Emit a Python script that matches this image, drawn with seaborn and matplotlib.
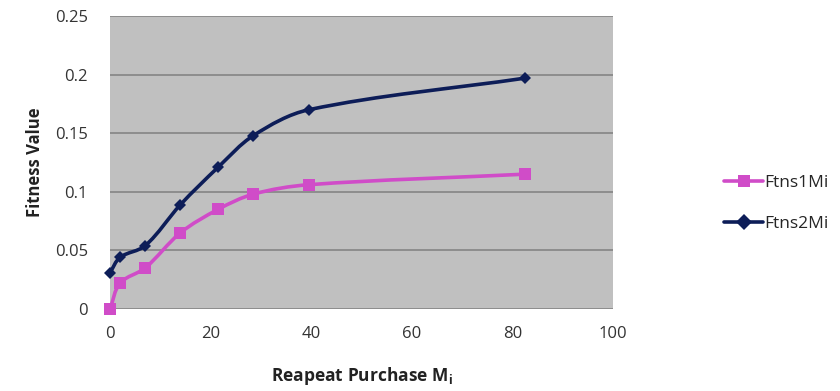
import matplotlib
matplotlib.use("Agg")
import matplotlib.pyplot as plt
from matplotlib.path import Path
from matplotlib.patches import PathPatch
import seaborn as sns
import pandas as pd
import numpy as np

# Repeat purchase counts and fitness values for the two fitness functions
repeat_purchase = [0, 2, 7, 14, 21.5, 28.5, 39.5, 82.5]
ftns1 = [0.0, 0.022, 0.035, 0.065, 0.085, 0.098, 0.106, 0.115]
ftns2 = [0.031, 0.044, 0.054, 0.089, 0.121, 0.148, 0.170, 0.197]
series_names = ["Ftns1Mi", "Ftns2Mi"]
x_ticks = [0, 20, 40, 60, 80, 100]
y_ticks = [0, 0.05, 0.1, 0.15, 0.2, 0.25]
y_tick_labels = ["0", "0.05", "0.1", "0.15", "0.2", "0.25"]

df = pd.DataFrame({
    "x": repeat_purchase * 2,
    "y": ftns1 + ftns2,
    "series": [series_names[0]] * len(ftns1) + [series_names[1]] * len(ftns2),
})

sns.set_theme(style="white")
plt.rcParams["font.family"] = ["Open Sans", "DejaVu Sans"]
plt.rcParams["mathtext.fontset"] = "custom"
plt.rcParams["mathtext.bf"] = "Open Sans:bold"
plt.rcParams["mathtext.rm"] = "Open Sans"

fig = plt.figure(figsize=(8.4, 3.91), dpi=100)
ax = fig.add_axes([0.131, 0.210, 0.599, 0.749])
ax.set_facecolor("#c0c0c0")

palette = {"Ftns1Mi": "#d04cc8", "Ftns2Mi": "#0d1d58"}
markers = {"Ftns1Mi": "s", "Ftns2Mi": "D"}
sns.lineplot(data=df, x="x", y="y", hue="series", style="series",
             palette=palette, markers=markers, dashes=False,
             linewidth=2.6, markersize=8, markeredgewidth=0, ax=ax,
             legend=True)

ax.set_xlim(0, 100)
ax.set_ylim(0, 0.25)

handles, labels = ax.get_legend_handles_labels()
ax.legend(handles, labels, loc="center left", bbox_to_anchor=(1.19, 0.36),
          frameon=False, fontsize=12.5, handlelength=2.2, handletextpad=0.12,
          labelspacing=1.4)


def smooth_path(xs, ys, trans):
    """Smoothed curve through the points, built in display space so the
    tangents follow what is seen on screen, then mapped back to data."""
    pts = trans.transform(np.column_stack([xs, ys]).astype(float))
    n = len(pts)
    tangents = []
    for i in range(n):
        p0 = pts[i - 1] if i > 0 else pts[i]
        p2 = pts[i + 1] if i + 1 < n else pts[i]
        d = p2 - p0
        norm = np.hypot(*d)
        tangents.append(d / norm if norm > 0 else d)
    verts = [pts[0]]
    codes = [Path.MOVETO]
    for i in range(n - 1):
        p1, p2 = pts[i], pts[i + 1]
        seg = np.hypot(*(p2 - p1)) / 3.0
        verts += [p1 + tangents[i] * seg, p2 - tangents[i + 1] * seg, p2]
        codes += [Path.CURVE4] * 3
    data_verts = trans.inverted().transform(np.array(verts))
    return Path(data_verts, codes)


# Smoothed connecting curves under the markers
for line in ax.lines:
    xs, ys = line.get_xdata(), line.get_ydata()
    if len(xs) < 2:
        continue
    patch = PathPatch(smooth_path(xs, ys, ax.transData), facecolor="none",
                      edgecolor=line.get_color(), linewidth=2.6,
                      zorder=1.9, clip_on=False, capstyle="round",
                      joinstyle="round")
    ax.add_patch(patch)
    line.set_linestyle("none")
    line.set_clip_on(False)
    if line.get_marker() == "D":
        line.set_markersize(6.5)

ax.set_xticks(x_ticks)
ax.set_yticks(y_ticks)
ax.set_yticklabels(y_tick_labels)
ax.grid(axis="y", color="#858585", linewidth=1.2)
ax.grid(axis="x", visible=False)
ax.set_axisbelow(True)
for s in ax.spines.values():
    s.set_visible(False)
ax.tick_params(axis="both", length=0, labelsize=12, colors="#333333")
ax.tick_params(axis="y", pad=16)
ax.tick_params(axis="x", pad=12)

ax.set_xlabel(r"Reapeat Purchase $\mathbf{M_i}$", fontsize=12.5,
              fontweight="bold", color="#222222", labelpad=17)
ax.set_ylabel("Fitness Value", fontsize=12, fontweight="bold",
              color="#222222", labelpad=8)

fig.savefig("out.png", dpi=100, facecolor="white")
